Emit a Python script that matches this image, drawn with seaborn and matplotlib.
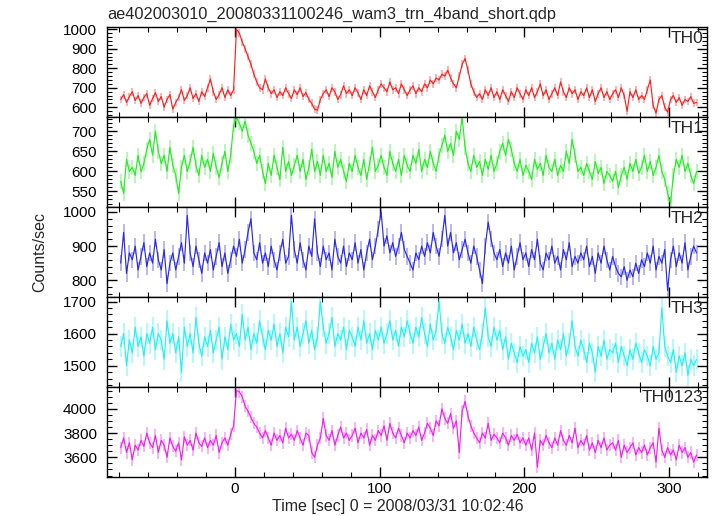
import numpy as np
import pandas as pd
import matplotlib
matplotlib.use("Agg")
import matplotlib.pyplot as plt
from matplotlib.ticker import MultipleLocator
import seaborn as sns

# bin centres: 2 s bins from -79 s to 319 s
time_sec = np.arange(-79, 320, 2)

th0 = [
    640, 665, 625, 655, 680, 635, 660, 620, 650, 670,
    610, 645, 675, 630, 655, 600, 640, 665, 590, 625,
    650, 690, 635, 660, 700, 645, 670, 630, 680, 655,
    700, 745, 680, 640, 665, 700, 650, 690, 660, 690,
    1000, 980, 935, 900, 860, 820, 770, 730, 700, 690,
    745, 700, 670, 690, 650, 680, 660, 700, 670, 645,
    690, 665, 700, 655, 675, 640, 620, 590, 585, 640,
    670, 690, 655, 700, 680, 640, 665, 710, 670, 690,
    660, 700, 675, 640, 690, 660, 710, 680, 650, 690,
    720, 700, 680, 730, 690, 700, 670, 720, 690, 660,
    690, 710, 670, 700, 680, 720, 700, 740, 720, 750,
    740, 770, 760, 790, 750, 720, 700, 760, 820, 850,
    790, 720, 680, 650, 670, 640, 690, 660, 700, 650,
    680, 640, 690, 660, 630, 680, 650, 700, 670, 640,
    690, 660, 700, 650, 680, 720, 660, 690, 640, 670,
    700, 660, 730, 680, 650, 700, 670, 690, 640, 680,
    660, 700, 650, 690, 630, 670, 700, 650, 680, 640,
    670, 690, 650, 700, 660, 580, 680, 650, 690, 640,
    660, 640, 690, 740, 610, 570, 640, 660, 600, 575,
    640, 660, 625, 650, 610, 640, 630, 655, 620, 625,
]

th1 = [
    575, 545, 630, 600, 610, 590, 640, 600, 620, 655,
    680, 640, 700, 650, 620, 640, 600, 660, 615, 590,
    545, 610, 640, 600, 625, 660, 615, 590, 640, 610,
    630, 600, 645, 610, 585, 620, 650, 600, 640, 715,
    735, 720, 700, 725, 690, 670, 650, 620, 640, 600,
    570, 620, 590, 640, 610, 580, 660, 600, 625, 590,
    615, 640, 600, 630, 580, 610, 655, 600, 625, 590,
    640, 600, 620, 585, 650, 610, 630, 600, 575, 620,
    600, 640, 610, 590, 630, 580, 620, 660, 600, 615,
    640, 610, 590, 650, 620, 600, 630, 590, 640, 615,
    600, 640, 620, 655, 600, 630, 610, 650, 620, 600,
    640, 665, 690, 650, 670, 640, 700, 680, 735, 660,
    620, 600, 640, 610, 625, 590, 630, 605, 640, 600,
    620, 650, 670, 640, 680, 655, 620, 600, 630, 590,
    615, 600, 580, 630, 605, 620, 590, 640, 610, 600,
    630, 590, 615, 600, 650, 620, 680, 640, 600, 610,
    590, 620, 600, 580, 625, 595, 610, 570, 600, 590,
    575, 600, 560, 590, 610, 580, 620, 600, 630, 595,
    610, 640, 600, 625, 590, 610, 640, 600, 580, 545,
    520, 590, 630, 610, 640, 600, 620, 590, 570, 600,
]

th2 = [
    850, 940, 820, 880, 860, 900, 830, 870, 910, 840,
    880, 850, 920, 860, 830, 890, 790, 850, 880, 830,
    870, 910, 850, 990, 880, 840, 900, 860, 820, 880,
    850, 890, 830, 870, 910, 840, 880, 820, 860, 900,
    870, 920, 850, 890, 940, 980, 880, 860, 910, 850,
    880, 840, 900, 860, 830, 880, 920, 850, 870, 990,
    890, 850, 910, 860, 830, 900, 870, 980, 880, 840,
    900, 860, 880, 830, 920, 870, 850, 900, 840, 880,
    860, 910, 850, 890, 830, 880, 920, 860, 900, 950,
    1000, 900, 930, 880, 910, 870, 900, 940, 890, 870,
    850, 830, 880, 860, 900, 870, 910, 880, 940, 900,
    870, 920, 990, 900, 940, 880, 910, 860, 890, 920,
    880, 850, 900, 870, 830, 790, 900, 970, 920, 880,
    860, 890, 840, 880, 850, 900, 830, 870, 910, 860,
    880, 840, 890, 860, 920, 850, 830, 880, 860, 900,
    850, 870, 830, 890, 860, 910, 840, 870, 850, 880,
    860, 900, 840, 870, 820, 880, 850, 900, 860, 830,
    870, 840, 820, 810, 840, 800, 830, 810, 850, 820,
    860, 840, 880, 850, 900, 830, 870, 850, 890, 770,
    860, 900, 840, 880, 850, 910, 830, 870, 900, 880,
]

th3 = [
    1560, 1600, 1500, 1580, 1540, 1620, 1560, 1590, 1530, 1600,
    1570, 1620, 1550, 1600, 1580, 1520, 1640, 1570, 1600, 1540,
    1590, 1480, 1620, 1560, 1600, 1540, 1650, 1570, 1530, 1590,
    1560, 1610, 1540, 1580, 1620, 1520, 1590, 1550, 1630, 1580,
    1600, 1560, 1660, 1580, 1620, 1550, 1600, 1570, 1640, 1590,
    1550, 1610, 1580, 1630, 1560, 1600, 1540, 1620, 1590, 1700,
    1580, 1620, 1560, 1600, 1640, 1570, 1610, 1550, 1590, 1700,
    1620, 1570, 1600, 1650, 1560, 1600, 1580, 1620, 1550, 1610,
    1590, 1560, 1620, 1580, 1640, 1570, 1600, 1550, 1610, 1580,
    1620, 1570, 1600, 1640, 1580, 1610, 1560, 1620, 1590, 1640,
    1600, 1570, 1620, 1590, 1650, 1600, 1560, 1630, 1580, 1610,
    1700, 1600, 1570, 1620, 1590, 1550, 1610, 1580, 1630, 1570,
    1600, 1560, 1620, 1580, 1550, 1600, 1680, 1590, 1560, 1620,
    1580, 1610, 1550, 1590, 1520, 1570, 1540, 1510, 1560, 1530,
    1550, 1510, 1570, 1540, 1590, 1520, 1560, 1600, 1540, 1570,
    1520, 1580, 1550, 1600, 1530, 1570, 1640, 1560, 1530, 1580,
    1550, 1510, 1570, 1540, 1480, 1560, 1530, 1580, 1520, 1550,
    1540, 1570, 1510, 1560, 1530, 1500, 1550, 1520, 1570, 1540,
    1510, 1550, 1530, 1500, 1560, 1520, 1540, 1680, 1560, 1530,
    1510, 1550, 1480, 1530, 1500, 1540, 1470, 1520, 1500, 1520,
]

th0123 = [
    3680, 3760, 3640, 3720, 3580, 3700, 3660, 3740, 3690, 3800,
    3720, 3680, 3780, 3640, 3740, 3700, 3600, 3760, 3690, 3650,
    3720, 3580, 3770, 3700, 3740, 3660, 3800, 3720, 3690, 3760,
    3680, 3740, 3700, 3780, 3640, 3720, 3760, 3700, 3790, 3860,
    4150, 4140, 4100, 4020, 3980, 3930, 3880, 3850, 3800, 3760,
    3820, 3760, 3700, 3800, 3740, 3780, 3720, 3840, 3760, 3790,
    3740, 3820, 3760, 3700, 3800, 3780, 3640, 3600, 3700, 3760,
    3920, 3780, 3740, 3820, 3700, 3780, 3850, 3760, 3800, 3740,
    3780, 3840, 3720, 3800, 3760, 3830, 3700, 3780, 3740, 3820,
    3780, 3860, 3740, 3880, 3800, 3760, 3840, 3780, 3720, 3800,
    3760, 3820, 3780, 3850, 3740, 3800, 3880, 3840, 3780, 3900,
    3860, 4000, 3920, 3880, 3960, 3840, 3900, 3640, 3980, 4060,
    3940, 3860, 3800, 3760, 3720, 3800, 3760, 3880, 3740, 3790,
    3760, 3720, 3800, 3760, 3700, 3780, 3740, 3790, 3720, 3760,
    3700, 3760, 3660, 3800, 3520, 3740, 3700, 3780, 3720, 3680,
    3760, 3700, 3820, 3740, 3700, 3780, 3720, 3840, 3680, 3740,
    3700, 3780, 3660, 3720, 3640, 3740, 3680, 3760, 3660, 3700,
    3720, 3660, 3740, 3600, 3700, 3640, 3680, 3720, 3620, 3680,
    3640, 3700, 3620, 3680, 3720, 3560, 3840, 3660, 3600, 3680,
    3620, 3660, 3580, 3700, 3640, 3680, 3600, 3640, 3560, 3620,
]

band_names = ["TH0", "TH1", "TH2", "TH3", "TH0123"]
band_colors = ["#ff2020", "#22ee22", "#2a2aee", "#22f2f2", "#f020f0"]
band_errors = [20, 18, 24, 32, 50]
y_limits = [(549, 1010), (511, 735), (751, 1014), (1434, 1714), (3440, 4180)]
y_major = [100, 50, 100, 100, 200]
y_minor = [20, 10, 20, 20, 50]

df = pd.DataFrame({"time": time_sec, "TH0": th0, "TH1": th1, "TH2": th2,
                   "TH3": th3, "TH0123": th0123})

sns.set_style("ticks")
plt.rcParams["font.family"] = ["Liberation Sans", "DejaVu Sans"]
plt.rcParams["font.size"] = 11

fig, axes = plt.subplots(5, 1, sharex=True, figsize=(7.17, 5.16), dpi=100)
fig.subplots_adjust(left=0.1488, right=0.9856, top=0.947, bottom=0.076, hspace=0)

for i, ax in enumerate(axes):
    name = band_names[i]
    col = band_colors[i]
    ax.errorbar(df["time"], df[name], yerr=band_errors[i], fmt="none",
                ecolor=col, alpha=0.4, elinewidth=1.2)
    sns.lineplot(data=df, x="time", y=name, ax=ax, color=col, lw=0.85,
                 estimator=None)
    ax.set_ylim(*y_limits[i])
    ax.set_xlim(-88.7, 326)
    ax.yaxis.set_major_locator(MultipleLocator(y_major[i]))
    ax.yaxis.set_minor_locator(MultipleLocator(y_minor[i]))
    ax.xaxis.set_major_locator(MultipleLocator(100))
    ax.xaxis.set_minor_locator(MultipleLocator(20))
    ax.tick_params(which="both", direction="in", top=True, right=True,
                   colors="black", labelsize=11)
    ax.tick_params(which="major", length=7, width=1)
    ax.tick_params(which="minor", length=3.5, width=0.8)
    ax.tick_params(axis="y", pad=7)
    ax.set_xlabel("")
    ax.set_ylabel("")
    for sp in ax.spines.values():
        sp.set_linewidth(1)
        sp.set_color("black")
    ax.text(0.995, 0.96, name, transform=ax.transAxes, ha="right", va="top",
            fontsize=12.5)

axes[-1].tick_params(axis="x", pad=4)

fig.text(0.149, 1 - 14 / 516, "ae402003010_20080331100246_wam3_trn_4band_short.qdp",
         ha="left", va="center", fontsize=11.8)
fig.text(40 / 717, 0.512, "Counts/sec", rotation=90, ha="center", va="center",
         fontsize=11.5)
fig.text(398 / 717, 1 - 507 / 516, "Time [sec] 0 = 2008/03/31 10:02:46",
         ha="center", va="center", fontsize=11.5)

fig.savefig("out.png", dpi=100)
plt.close(fig)
